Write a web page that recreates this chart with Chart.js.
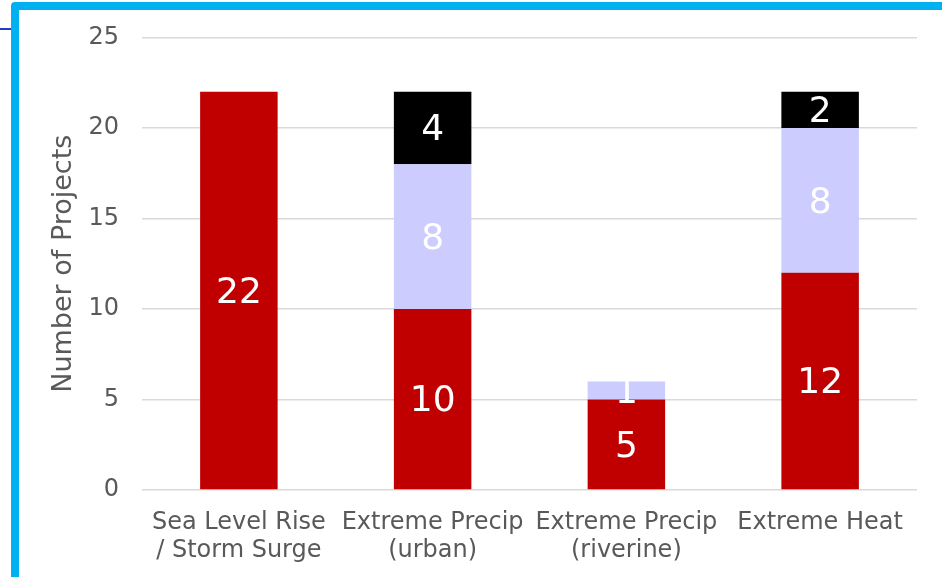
<!DOCTYPE html>
<html>
<head>
<meta charset="utf-8">
<script src="https://cdn.jsdelivr.net/npm/chart.js@4"></script>
<style>
  html, body { margin: 0; padding: 0; background: #ffffff; overflow: hidden; }
  #wrap { position: relative; width: 942px; height: 577px; }
  #frame {
    position: absolute; left: 11px; top: 2px; width: 1000px; height: 700px;
    border: 8px solid #00B0F0; border-radius: 4px; box-sizing: border-box;
    background: #ffffff; z-index: 0;
  }
  #connector {
    position: absolute; left: 0; top: 28px; width: 12px; height: 2px;
    background: #1F3FBF; z-index: 0;
  }
  #chart { position: absolute; left: 0; top: 0; z-index: 1; }
</style>
</head>
<body>
<div id="wrap">
  <div id="connector"></div>
  <div id="frame"></div>
  <canvas id="chart" width="942" height="577"></canvas>
</div>
<script>
// Hazard categories (two-line labels)
const categories = [
  ['Sea Level Rise', '/ Storm Surge'],
  ['Extreme Precip', '(urban)'],
  ['Extreme Precip', '(riverine)'],
  ['Extreme Heat']
];
// Project counts per stacked segment
const seriesRed      = [22, 10, 5, 12];
const seriesLavender = [0, 8, 1, 8];
const seriesBlack    = [0, 4, 0, 2];
const yTicks = [0, 5, 10, 15, 20, 25];

const FONT = "'DejaVu Sans', Verdana, sans-serif";

// Writes each segment's value in white at the middle of its bar piece
const segmentLabels = {
  id: 'segmentLabels',
  afterDatasetsDraw(chart) {
    const ctx = chart.ctx;
    ctx.save();
    ctx.fillStyle = '#ffffff';
    ctx.font = '36px ' + FONT;
    ctx.textAlign = 'center';
    ctx.textBaseline = 'middle';
    chart.data.datasets.forEach((ds, di) => {
      const meta = chart.getDatasetMeta(di);
      meta.data.forEach((bar, i) => {
        const v = ds.data[i];
        if (!v) return;
        const yMid = (bar.y + bar.base) / 2;
        ctx.fillText(String(v), bar.x, yMid + 3);
      });
    });
    ctx.restore();
  }
};

new Chart(document.getElementById('chart'), {
  type: 'bar',
  data: {
    labels: categories,
    datasets: [
      { label: 'Red', data: seriesRed, backgroundColor: '#C00000' },
      { label: 'Lavender', data: seriesLavender, backgroundColor: '#CCCCFF' },
      { label: 'Black', data: seriesBlack, backgroundColor: '#000000' }
    ]
  },
  options: {
    responsive: false,
    animation: false,
    events: [],
    layout: { padding: { top: 35, right: 25, left: 0, bottom: 0 } },
    datasets: { bar: { barPercentage: 0.4, categoryPercentage: 1.0 } },
    plugins: {
      legend: { display: false },
      tooltip: { enabled: false }
    },
    scales: {
      x: {
        stacked: true,
        grid: { display: false, drawTicks: false },
        border: { display: false },
        ticks: {
          color: '#595959',
          font: { family: FONT, size: 24, lineHeight: 1.2 },
          padding: 18,
          maxRotation: 0,
          autoSkip: false
        },
        afterFit(scale) { scale.height = 87; }
      },
      y: {
        stacked: true,
        min: 0,
        max: 25,
        afterBuildTicks(scale) { scale.ticks = yTicks.map(v => ({ value: v })); },
        grid: { color: '#D9D9D9', lineWidth: 1.5, drawTicks: false },
        border: { display: false },
        ticks: {
          color: '#595959',
          font: { family: FONT, size: 24 },
          padding: 23
        },
        title: {
          display: true,
          text: 'Number of Projects',
          color: '#595959',
          font: { family: FONT, size: 27 },
          padding: { top: 48, bottom: 0 }
        },
        afterFit(scale) { scale.width = 142; }
      }
    }
  },
  plugins: [segmentLabels]
});
</script>
</body>
</html>
